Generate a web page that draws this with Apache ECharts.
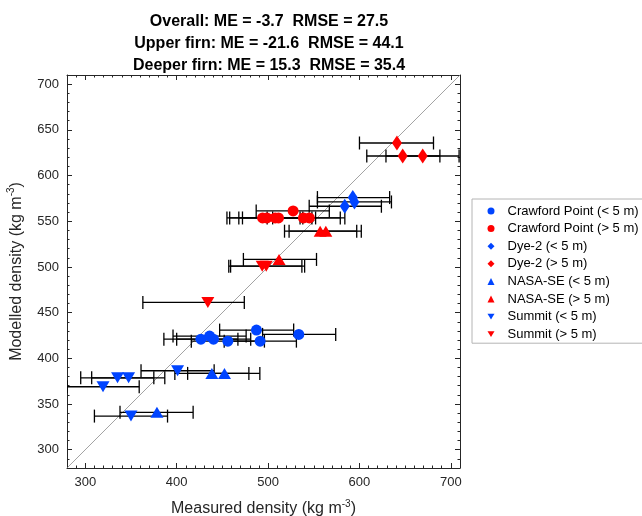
<!DOCTYPE html>
<html>
<head>
<meta charset="utf-8">
<script src="https://cdn.jsdelivr.net/npm/echarts@6/dist/echarts.min.js"></script>
<style>html,body{margin:0;padding:0;background:#fff}#c{width:642px;height:516px}</style>
</head>
<body>
<div id="c"></div>
<script>
// [measured, modelled, error-bar low, error-bar high]
const crawfordUpper = [[426.5,421,386,467],[436,424.3,396,476],[440.3,421,400,481],[456,418.8,416,496],[487.3,430.9,447,528],[491.3,418.8,452,531],[533.6,426.2,494,574]];
const crawfordDeep = [[494,553.6,455,535],[498.7,553.6,458,538],[507.8,553.6,468,548],[511.4,553.6,472,552],[527.4,561.3,487,567],[538.7,553.6,499,579],[545.2,553.6,505,584]];
const dye2Upper = [[592.7,575.9,554,633],[594.5,571.1,554,635],[583.9,566.4,545,624]];
const dye2Deep = [[641,635.6,600,681],[647.3,621.4,608,688],[669.2,621.4,629,709]];
const nasaUpper = [[438.5,383.5,398,479],[452.3,383.5,412,491],[378.4,340.9,338,418]];
const nasaDeep = [[557,539.1,518,597],[563.2,539.1,523,602],[512,508.2,473,553]];
const summitUpper = [[319.4,368.9,280,359],[335.3,378.7,295,375],[347.4,378.7,307,387],[401,386.4,361,441],[350,336.8,310,390]];
const summitDeep = [[493.6,500.8,457,537],[498,500.8,459,540],[434.1,461.2,363,474]];
const xTicks = [300,400,500,600,700];
const yTicks = [300,350,400,450,500,550,600,650,700];
const titleLines = ['Overall: ME = -3.7  RMSE = 27.5','Upper firn: ME = -21.6  RMSE = 44.1','Deeper firn: ME = 15.3  RMSE = 35.4'];

const BLUE = '#0044ff', RED = '#ff0000';
const DOWN = 'path://M0,0L12,0L6,10Z';
const groups = [
  {name:'Crawford Point (< 5 m)', data:crawfordUpper, color:BLUE, symbol:'circle', size:11, icon:'circle'},
  {name:'Crawford Point (> 5 m)', data:crawfordDeep, color:RED, symbol:'circle', size:11, icon:'circle'},
  {name:'Dye-2 (< 5 m)', data:dye2Upper, color:BLUE, symbol:'diamond', size:[10,15], icon:'diamond'},
  {name:'Dye-2 (> 5 m)', data:dye2Deep, color:RED, symbol:'diamond', size:[10,15], icon:'diamond'},
  {name:'NASA-SE (< 5 m)', data:nasaUpper, color:BLUE, symbol:'triangle', size:[13,11], icon:'triangle'},
  {name:'NASA-SE (> 5 m)', data:nasaDeep, color:RED, symbol:'triangle', size:[13,11], icon:'triangle'},
  {name:'Summit (< 5 m)', data:summitUpper, color:BLUE, symbol:DOWN, size:[13,11], icon:DOWN},
  {name:'Summit (> 5 m)', data:summitDeep, color:RED, symbol:DOWN, size:[13,11], icon:DOWN}
];

const FONT = 'Liberation Sans';
const AX = '#262626';
const MIN = 280, MAX = 710;

function majorAxis(pos, ticks, withLabel, extra){
  return Object.assign({
    type:'value', min:MIN, max:MAX, position:pos, gridIndex:0,
    axisLine:{show:true, onZero:false, lineStyle:{color:AX, width:1}},
    axisTick:{show:true, inside:true, length:5, customValues:ticks, lineStyle:{color:AX}},
    axisLabel:{show:withLabel, customValues:ticks, color:AX, fontFamily:FONT, fontSize:13, margin:8},
    splitLine:{show:false}
  }, extra||{});
}
function minorAxis(pos){
  return {
    type:'value', min:MIN, max:MAX, interval:10, position:pos, gridIndex:0,
    axisLine:{show:false, onZero:false},
    axisTick:{show:true, inside:true, length:2.5, lineStyle:{color:AX}},
    axisLabel:{show:false}, splitLine:{show:false}
  };
}

const supStyle = {fontSize:10, fontFamily:FONT, color:AX, verticalAlign:'top', lineHeight:10};
const xName = {
  name:'Measured density (kg m{sup|-3})', nameLocation:'middle', nameGap:31,
  nameTextStyle:{color:AX, fontFamily:FONT, fontSize:16, lineHeight:20, rich:{sup:supStyle}}
};
const yName = {
  name:'Modelled density (kg m{sup|-3})', nameLocation:'middle', nameGap:37,
  nameTextStyle:{color:AX, fontFamily:FONT, fontSize:16, lineHeight:20, rich:{sup:supStyle}}
};

const series = [];
series.push({
  type:'line', data:[[MIN,MIN],[MAX,MAX]], showSymbol:false, symbol:'none', silent:true,
  lineStyle:{color:'#8c8c8c', width:0.8}, z:1, xAxisIndex:0, yAxisIndex:0
});
groups.forEach(g => {
  series.push({
    type:'custom', xAxisIndex:0, yAxisIndex:0, data:g.data, z:2, silent:true, clip:true,
    encode:{x:[0,2,3], y:1},
    renderItem:function(params, api){
      const y = api.value(1), lo = api.value(2), hi = api.value(3);
      const a = api.coord([lo,y]), b = api.coord([hi,y]);
      const h = 6.5, st = {stroke:'#000', lineWidth:1.3};
      return {type:'group', children:[
        {type:'line', shape:{x1:a[0],y1:a[1],x2:b[0],y2:b[1]}, style:st},
        {type:'line', shape:{x1:a[0],y1:a[1]-h,x2:a[0],y2:a[1]+h}, style:st},
        {type:'line', shape:{x1:b[0],y1:b[1]-h,x2:b[0],y2:b[1]+h}, style:st}
      ]};
    }
  });
});
groups.forEach(g => {
  series.push({
    type:'scatter', name:g.name, xAxisIndex:0, yAxisIndex:0, z:3,
    data:g.data.map(d => [d[0], d[1]]),
    symbol:g.symbol, symbolSize:g.size,
    itemStyle:{color:g.color, opacity:1}
  });
});

const chart = echarts.init(document.getElementById('c'), null, {renderer:'canvas'});
chart.setOption({
  animation:false,
  backgroundColor:'#fff',
  title:{
    text:titleLines.join('\n'), left:264, top:6, textAlign:'center',
    textStyle:{fontFamily:FONT, fontSize:16, fontWeight:'bold', color:'#000', lineHeight:22}
  },
  grid:{left:67, right:182, top:75, bottom:48, containLabel:false, outerBoundsMode:'none'},
  xAxis:[
    majorAxis('bottom', xTicks, true, xName),
    minorAxis('bottom'),
    majorAxis('top', xTicks, false),
    minorAxis('top')
  ],
  yAxis:[
    majorAxis('left', yTicks, true, yName),
    minorAxis('left'),
    majorAxis('right', yTicks, false),
    minorAxis('right')
  ],
  legend:{
    orient:'vertical', left:472, top:199,
    padding:[5,12,2,15.5], itemGap:3.6, itemWidth:7, itemHeight:7,
    borderColor:'#b4b4b4', borderWidth:1, backgroundColor:'#fff',
    textStyle:{fontFamily:FONT, fontSize:13, color:'#000', lineHeight:14, padding:[0,0,0,8]},
    data:groups.map(g => ({name:g.name, icon:g.icon})),
    selectedMode:false
  },
  series:series
});
</script>
</body>
</html>
